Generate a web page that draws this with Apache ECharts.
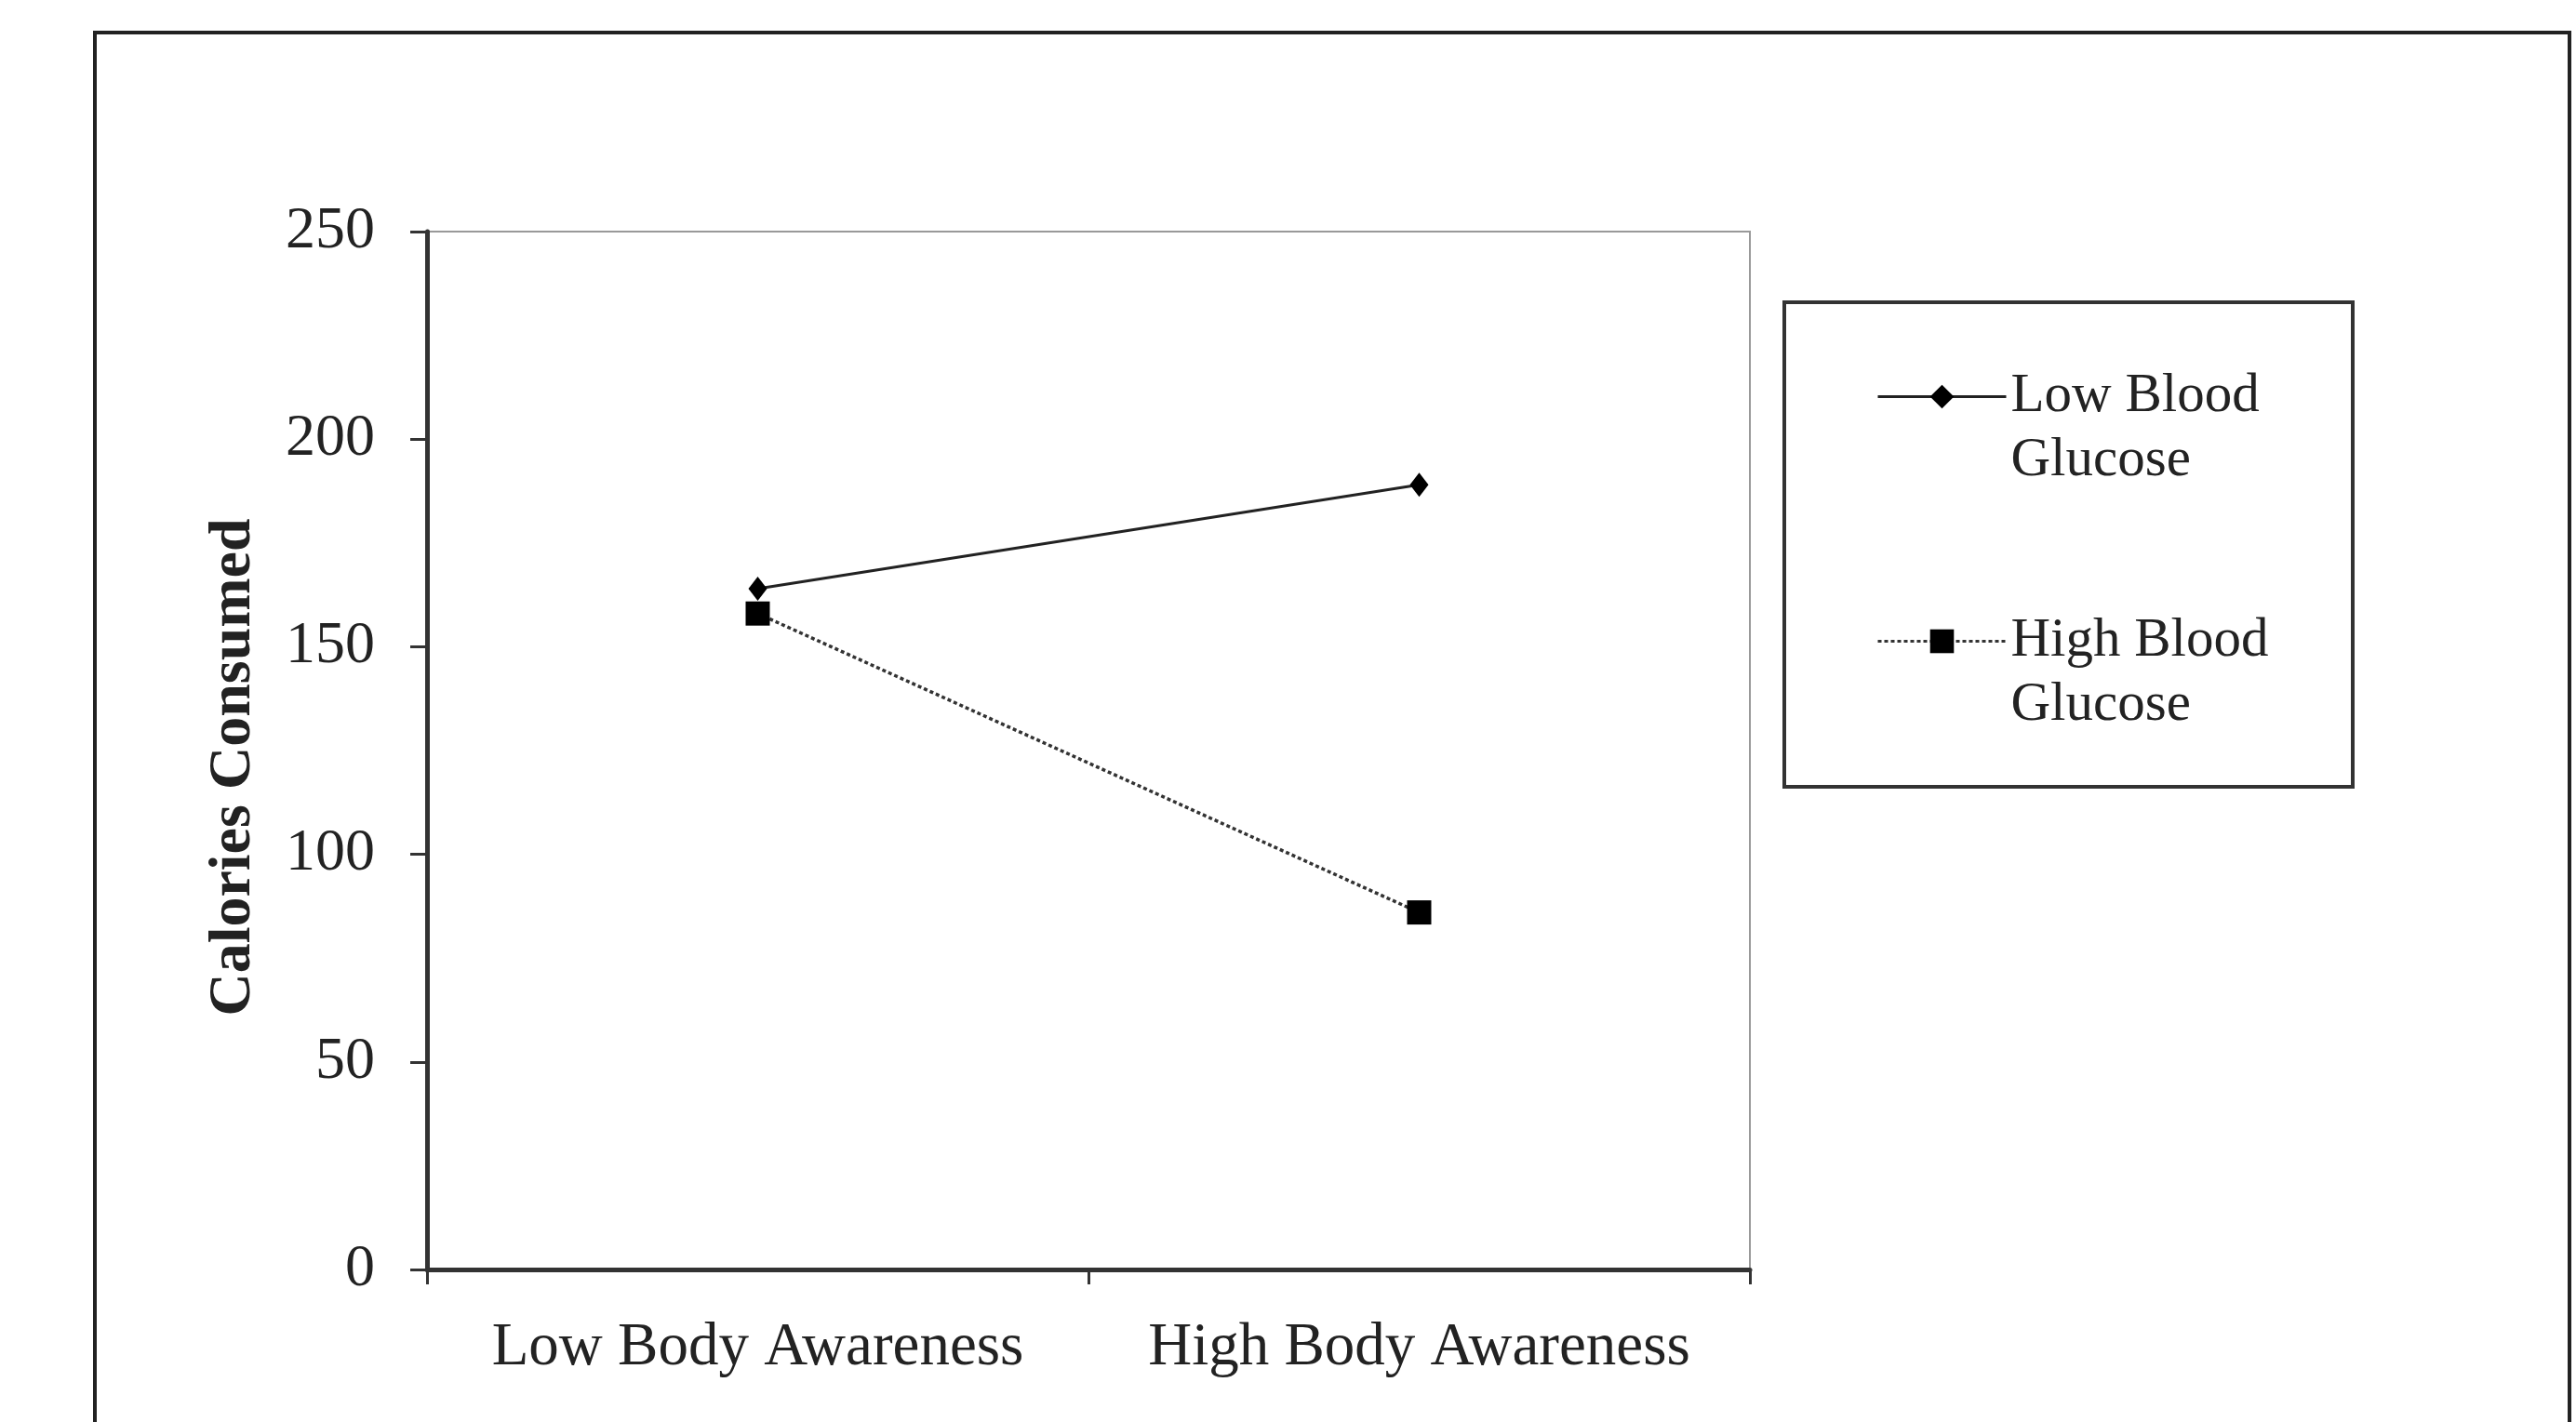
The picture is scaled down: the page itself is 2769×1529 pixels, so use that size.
<!DOCTYPE html>
<html>
<head>
<meta charset="utf-8">
<script src="https://cdn.jsdelivr.net/npm/echarts@6/dist/echarts.min.js"></script>
<style>
html,body{margin:0;padding:0;background:#fff;}
#chart{width:2769px;height:1529px;}
</style>
</head>
<body>
<div id="chart"></div>
<script>
const categories = ['Low Body Awareness', 'High Body Awareness'];
const seriesNames = ['Low Blood Glucose', 'High Blood Glucose'];
const lowGlucose = [164, 189];
const highGlucose = [158, 86];
const yTicks = [0, 50, 100, 150, 200, 250];

const FONT = '"Liberation Serif", "Times New Roman", serif';
const chart = echarts.init(document.getElementById('chart'));
chart.setOption({
  backgroundColor: '#ffffff',
  animation: false,
  graphic: [
    {type: 'rect', shape: {x: 102, y: 35, width: 2660, height: 1600}, style: {fill: 'none', stroke: '#222', lineWidth: 4}, z: -1},
    {type: 'rect', shape: {x: 1918, y: 325, width: 611, height: 521}, style: {fill: '#fff', stroke: '#333', lineWidth: 4}, z: 0}
  ],
  grid: {left: 459, top: 249, width: 1422, height: 1116, show: true, borderColor: '#999', borderWidth: 2, containLabel: false},
  legend: {
    orient: 'vertical',
    left: 2012,
    top: 318,
    itemWidth: 138,
    itemHeight: 32,
    itemGap: 56,
    z: 5,
    lineStyle: {width: 3},
    textStyle: {fontFamily: FONT, fontSize: 59, color: '#222', lineHeight: 69},
    formatter: function (n) { return ' \n' + n.replace(' Glucose', '\nGlucose'); },
    data: seriesNames
  },
  xAxis: {
    type: 'category',
    data: categories,
    boundaryGap: true,
    axisLine: {lineStyle: {color: '#333', width: 5}},
    axisTick: {show: true, interval: 0, length: 16, lineStyle: {color: '#333', width: 3}},
    axisLabel: {interval: 0, fontFamily: FONT, fontSize: 65, color: '#222', margin: 52}
  },
  yAxis: {
    type: 'value',
    min: 0, max: 250, interval: 50,
    name: 'Calories Consumed',
    nameLocation: 'middle',
    nameGap: 176,
    nameTextStyle: {fontFamily: FONT, fontSize: 64, fontWeight: 'bold', color: '#222', padding: [0, 36, 0, 0]},
    axisLine: {show: true, lineStyle: {color: '#333', width: 5}},
    axisTick: {show: true, length: 18, lineStyle: {color: '#333', width: 3}},
    splitLine: {show: false},
    axisLabel: {fontFamily: FONT, fontSize: 64, color: '#222', margin: 56,
      formatter: function (v) { return yTicks.indexOf(v) >= 0 ? String(v) : ''; }}
  },
  series: [
    {
      name: seriesNames[0], type: 'line', data: lowGlucose,
      symbol: 'diamond', symbolSize: [20, 26],
      lineStyle: {color: '#222', width: 3, type: 'solid'},
      itemStyle: {color: '#000'}
    },
    {
      name: seriesNames[1], type: 'line', data: highGlucose,
      symbol: 'rect', symbolSize: [26, 26],
      lineStyle: {color: '#333', width: 3.5, type: [4, 3]},
      itemStyle: {color: '#000'}
    }
  ]
});
</script>
</body>
</html>
